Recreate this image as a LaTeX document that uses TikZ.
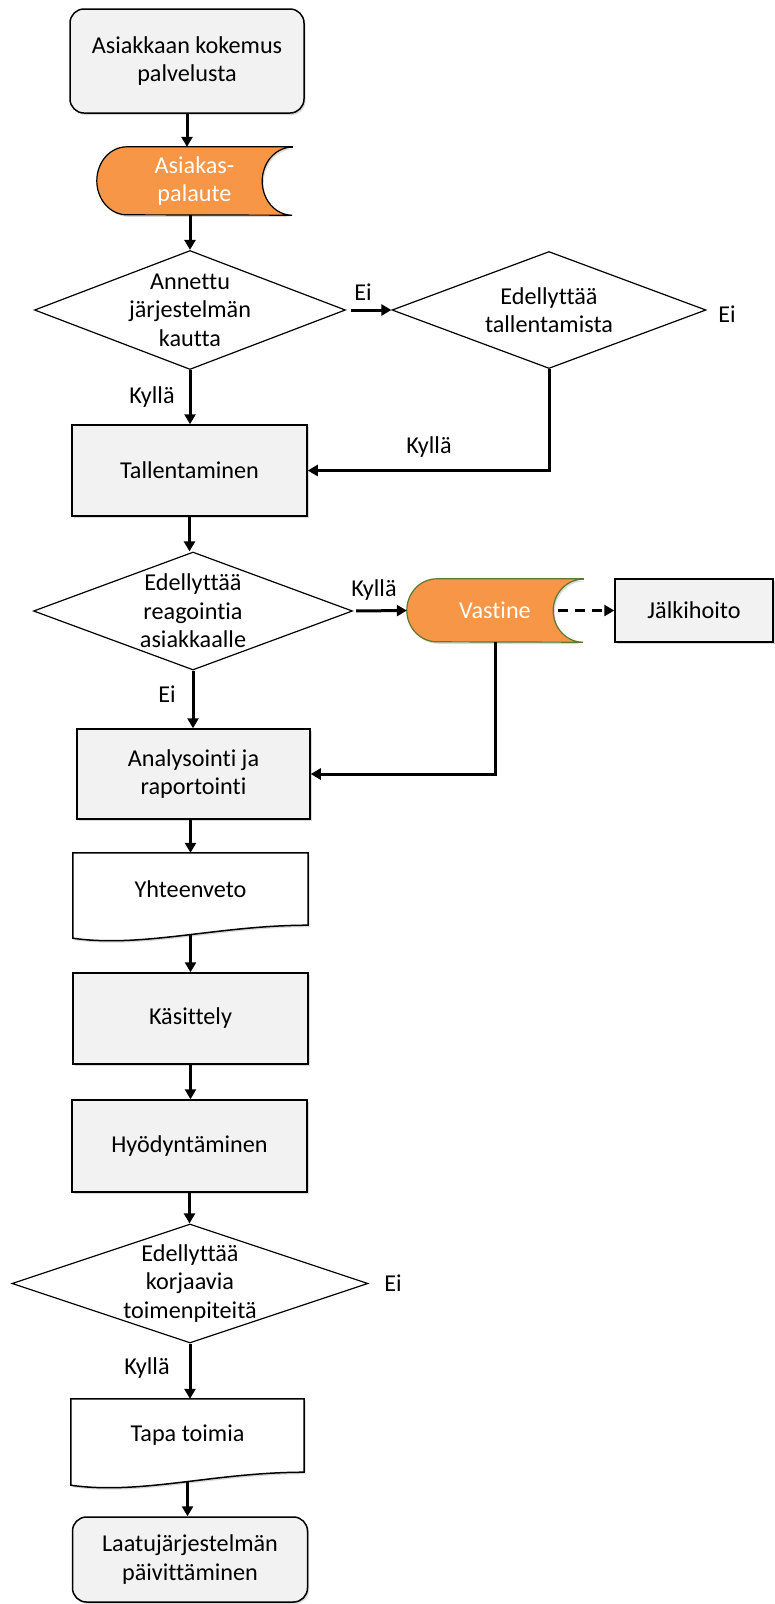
\documentclass[tikz,border=0pt]{standalone}
\usepackage{fontspec}
\setmainfont{Carlito}[Ligatures=NoCommon]
\usetikzlibrary{shapes.geometric,arrows.meta,shadows,calc,backgrounds}
\definecolor{boxgray}{RGB}{242,242,242}
\definecolor{palorange}{RGB}{247,150,70}
\definecolor{olivedge}{RGB}{94,120,48}
\tikzset{
  every node/.style={font=\fontsize{24.2}{28.5}\selectfont, align=center},
  boxshadow/.style={drop shadow={shadow xshift=1.5pt, shadow yshift=-2pt, opacity=.3}},
  process/.style={rectangle, draw, line width=1.5pt, fill=boxgray, minimum width=235pt, minimum height=91pt, boxshadow},
  terminal/.style={process, rounded corners=14pt},
  storebox/.style={rectangle, inner sep=0pt, text=white},
  docbox/.style={rectangle, inner sep=0pt, minimum width=235pt, minimum height=72pt},
  decision/.style={diamond, draw, line width=1.2pt, fill=white, inner sep=0pt},
  flow/.style={line width=3pt, -{Triangle[length=10pt,width=11pt]}},
}
% stored data shape behind a node: name, edge colour, half height
\newcommand{\storedata}[3]{%
  \begin{pgfonlayer}{background}
  \filldraw[fill=palorange, draw=#2, line width=1.2pt, boxshadow]
    (#1.north east) -- ([xshift=30pt]#1.north west)
    arc[start angle=90, end angle=270, x radius=30pt, y radius=#3]
    -- (#1.south east)
    arc[start angle=-90, end angle=-270, x radius=30pt, y radius=#3] -- cycle;
  \end{pgfonlayer}}
% document shape behind a node
\newcommand{\docshape}[1]{%
  \begin{pgfonlayer}{background}
  \filldraw[fill=white, draw, line width=1.5pt, boxshadow]
    (#1.north west) -- (#1.north east) -- (#1.south east)
    .. controls ($(#1.south east)+(-90,0)$) and ($(#1.south west)+(70,23)$) .. ($(#1.south west)+(0,13)$)
    -- cycle;
  \end{pgfonlayer}}

\begin{document}
\begin{tikzpicture}[x=1pt, y=-1pt]
    \useasboundingbox (0,0) rectangle (774,1604);
    % Feedback arrives
    \node[terminal, minimum width=234pt, minimum height=104pt] (kokemus) at (187,61) {Asiakkaan kokemus\\palvelusta};
    \node[storebox, minimum width=195pt, minimum height=68pt] (palaute) at (194.5,181) {Asiakas-\\palaute};
    \storedata{palaute}{black}{34pt}
    % Recording
    \node[decision, minimum width=311pt, minimum height=119pt] (annettu) at (190,310) {};
    \node (annettu-t) at (annettu) {Annettu\\järjestelmän\\kautta};
    \node[decision, minimum width=314pt, minimum height=117pt] (tallentamista) at (549,310) {};
    \node (tallentamista-t) at (tallentamista) {Edellyttää\\tallentamista};
    \node[process] (tallennus) at (189.5,470.5) {Tallentaminen};
    % Reply to the customer
    \node[decision, minimum width=319pt, minimum height=118pt] (reagointi) at (193,611) {};
    \node (reagointi-t) at (reagointi) {Edellyttää\\reagointia\\asiakkaalle};
    \node[storebox, minimum width=176pt, minimum height=63pt] (vastine) at (495,610.5) {Vastine};
    \storedata{vastine}{olivedge}{31.5pt}
    \node[process, minimum width=158pt, minimum height=63pt] (jalkihoito) at (694,610.5) {Jälkihoito};
    % Analysis and use
    \node[process, minimum width=233pt, minimum height=90pt] (analyysi) at (193.5,774) {Analysointi ja\\raportointi};
    \node[docbox] (yhteenveto) at (190.5,889) {Yhteenveto};
    \docshape{yhteenveto}
    \node[process] (kasittely) at (190.5,1018.5) {Käsittely};
    \node[process, minimum height=92pt] (hyodyntaminen) at (189.5,1146) {Hyödyntäminen};
    % Corrective actions
    \node[decision, minimum width=356pt, minimum height=119pt] (korjaavia) at (190,1283.5) {};
    \node (korjaavia-t) at (korjaavia) {Edellyttää\\korjaavia\\toimenpiteitä};
    \node[docbox, minimum width=233pt, minimum height=73pt] (tapa) at (187.5,1435.5) {Tapa toimia};
    \docshape{tapa}
    \node[terminal, minimum height=85pt] (laatu) at (190,1559.5) {Laatujärjestelmän\\päivittäminen};
    % Branch labels
    \node (ei-annettu) at (363,292) {Ei};
    \node (kylla-annettu) at (152,397) {Kyllä};
    \node (ei-tallentamista) at (727,314) {Ei};
    \node (kylla-tallentamista) at (429,447) {Kyllä};
    \node (kylla-reagointi) at (374,590) {Kyllä};
    \node (ei-reagointi) at (167,694) {Ei};
    \node (ei-korjaavia) at (393,1283) {Ei};
    \node (kylla-korjaavia) at (147,1368) {Kyllä};
    % Connectors
    \draw[flow] (kokemus.south) -- (kokemus.south |- palaute.north);
    \draw[flow] (annettu.north |- palaute.south) -- (annettu.north);
    \draw[flow] (annettu.south) -- (annettu.south |- tallennus.north);
    \draw[flow, shorten <=5pt] (annettu.east) -- (tallentamista.west);
    \draw[flow] (tallentamista.south) |- (tallennus.east);
    \draw[flow] (tallennus.south) -- (tallennus.south |- reagointi.north);
    \draw[flow, shorten <=3pt] (reagointi.east) -- (vastine.west);
    \draw[flow, dash pattern=on 10pt off 7pt] ([xshift=-25pt]vastine.east) -- (jalkihoito.west);
    \draw[flow] (reagointi.south) -- (reagointi.south |- analyysi.north);
    \draw[flow] (vastine.south) |- (analyysi.east);
    \draw[flow] (yhteenveto.north |- analyysi.south) -- (yhteenveto.north);
    \draw[flow] ([yshift=-9pt]yhteenveto.south) -- (yhteenveto.south |- kasittely.north);
    \draw[flow] (kasittely.south) -- (kasittely.south |- hyodyntaminen.north);
    \draw[flow] (hyodyntaminen.south) -- (hyodyntaminen.south |- korjaavia.north);
    \draw[flow] (korjaavia.south) -- (korjaavia.south |- tapa.north);
    \draw[flow] ([yshift=-9pt]tapa.south) -- (tapa.south |- laatu.north);
\end{tikzpicture}
\end{document}
